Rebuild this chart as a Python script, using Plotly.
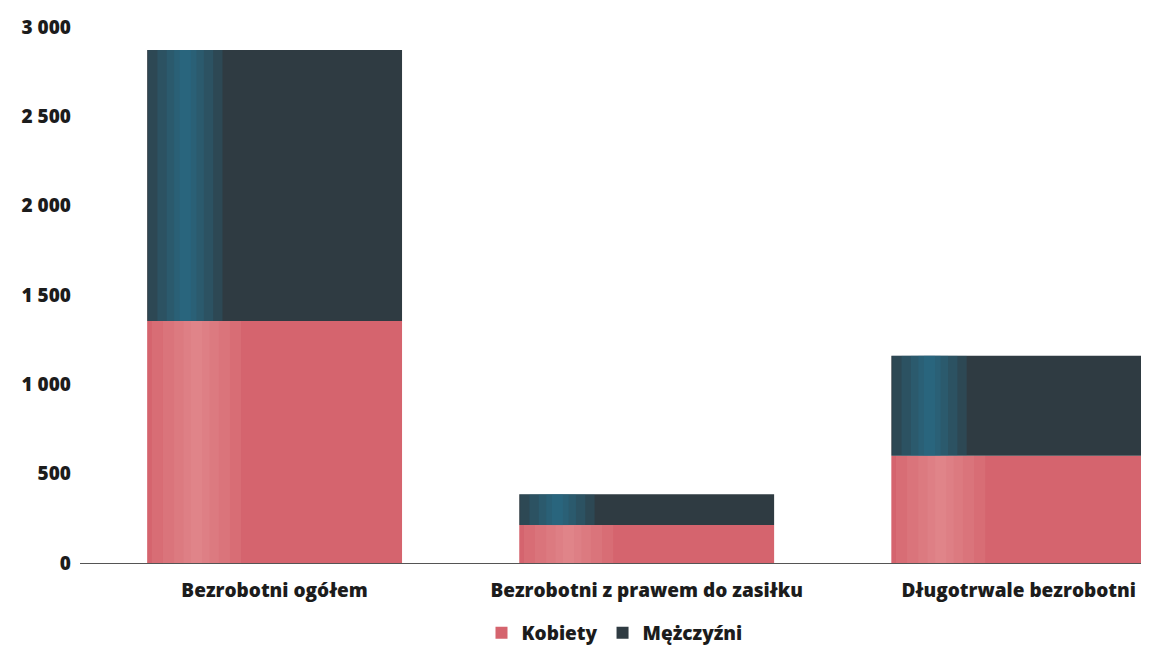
import plotly.graph_objects as go

categories = ["Bezrobotni ogółem", "Bezrobotni z prawem do zasiłku", "Długotrwale bezrobotni"]
kobiety = [1354, 212, 600]
mezczyzni = [1517, 173, 560]
y_ticks = [0, 500, 1000, 1500, 2000, 2500, 3000]

BAR_W = 0.685
FONT = dict(family="Open Sans", size=19, color="#1c1c1c", weight=800)

base_m = kobiety

fig = go.Figure()
# main series
fig.add_trace(go.Bar(name="Kobiety", x=categories, y=kobiety, base=[0] * len(kobiety),
                     width=BAR_W, marker=dict(color="#d5646e", line=dict(width=0))))
fig.add_trace(go.Bar(name="Mężczyźni", x=categories, y=mezczyzni, base=base_m,
                     width=BAR_W, marker=dict(color="#2f3b42", line=dict(width=0))))

# soft cylinder-like highlights (same data, narrower translucent overlay bars)
for vals, base, col, op, centre, layers in [
    (kobiety, [0] * len(kobiety), "#ec9ea2", 0.15, -0.21, [0.24, 0.18, 0.12, 0.07, 0.03]),
    (mezczyzni, base_m, "#2a7797", 0.22, -0.24, [0.20, 0.15, 0.10, 0.06, 0.03]),
]:
    for w in layers:
        fig.add_trace(go.Bar(x=categories, y=vals, base=base, width=w, offset=centre - w / 2,
                             marker=dict(color=col, opacity=op, line=dict(width=0)),
                             showlegend=False, hoverinfo="skip"))

fig.update_layout(
    barmode="overlay",
    width=1149, height=646,
    margin=dict(l=72, r=8, t=19, b=91, autoexpand=False),
    paper_bgcolor="white", plot_bgcolor="white",
    separators=", ",
    font=FONT,
    showlegend=True,
    legend=dict(orientation="h", x=0.5, xanchor="center", y=-0.095, yanchor="top",
                font=FONT, traceorder="normal", itemwidth=30),
)
fig.update_xaxes(range=[-0.523, 2.35], showline=True, linecolor="#555555", linewidth=1,
                 showgrid=False, ticks="", tickfont=FONT, ticklabelstandoff=10)
fig.update_yaxes(range=[0, 3000], tickvals=y_ticks, tickformat=",d", showgrid=False,
                 zeroline=False, showline=False, ticks="", tickfont=FONT, ticklabelstandoff=8)

fig.write_html("out.html")
